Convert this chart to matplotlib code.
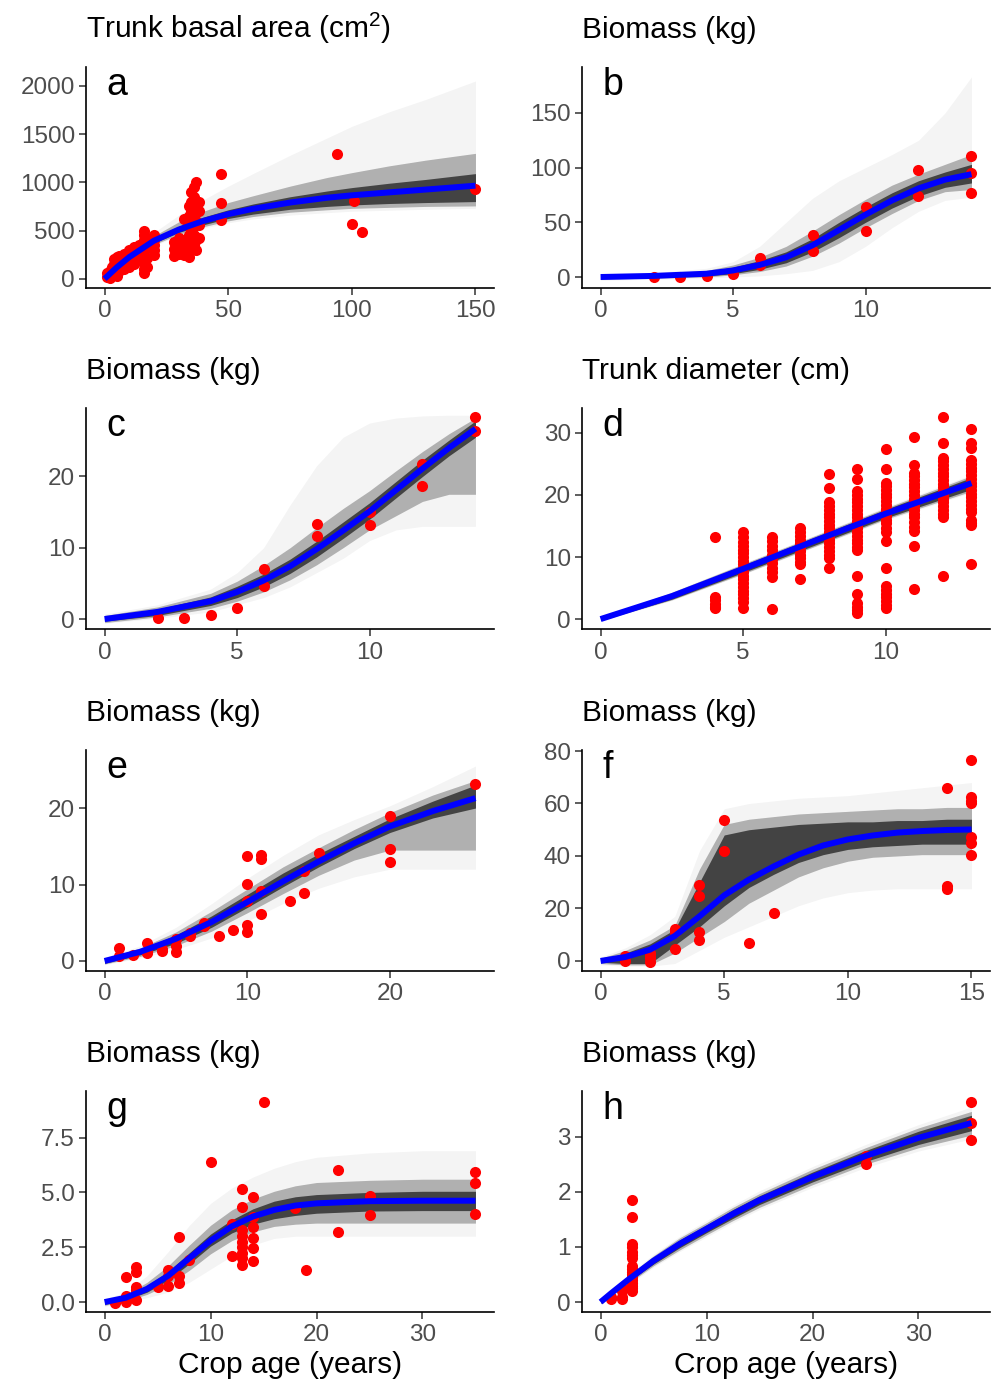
import numpy as np
import matplotlib
matplotlib.use("Agg")
import matplotlib.pyplot as plt

plt.rcParams['font.family'] = ['Liberation Sans', 'DejaVu Sans']
plt.rcParams['mathtext.default'] = 'regular'

# ---------------- panel a : trunk basal area ----------------
a_x = [0, 5, 10, 20, 30, 40, 50, 60, 75, 90, 100, 115, 130, 150]
a_fit = [0, 120, 225, 395, 510, 600, 670, 725, 790, 840, 865, 895, 925, 965]
a_core_lo = [0, 110, 210, 370, 480, 560, 625, 670, 720, 750, 765, 780, 790, 800]
a_core_hi = [0, 130, 240, 420, 545, 640, 715, 775, 850, 910, 945, 990, 1030, 1090]
a_band_lo = [0, 100, 195, 355, 460, 540, 600, 645, 690, 715, 730, 740, 750, 755]
a_band_hi = [0, 140, 255, 445, 590, 700, 790, 860, 960, 1050, 1100, 1170, 1230, 1300]
a_out_lo = [0, 95, 185, 340, 450, 525, 580, 620, 660, 685, 700, 710, 720, 730]
a_out_hi = [0, 150, 275, 480, 660, 820, 960, 1090, 1280, 1460, 1580, 1730, 1860, 2050]
a_age = [1, 1, 2, 2, 3, 3, 4, 4, 4, 5, 5, 5, 6, 6, 6, 7, 7, 8, 8, 8, 9, 9, 10, 10, 10,
         11, 11, 12, 12, 12, 13, 13, 14, 14,
         16, 16, 16, 16, 16, 16, 16, 16, 16, 16, 17, 17, 17, 17,
         20, 20, 20, 20, 20, 28, 28, 28, 30, 30, 30, 32, 32, 32, 32,
         34, 34, 34, 34, 34, 34, 34, 35, 35, 35, 35, 35, 35, 35,
         36, 36, 36, 36, 36, 36, 36, 37, 37, 37, 37, 37, 38, 38, 38, 38,
         47, 47, 47, 94, 100, 101, 104, 150]
a_area = [20, 60, 10, 80, 40, 120, 60, 150, 200, 30, 100, 230, 80, 180, 240, 120, 200, 100, 170, 260,
          150, 220, 120, 200, 300, 180, 260, 150, 230, 330, 200, 290, 250, 350,
          60, 100, 150, 200, 250, 300, 350, 400, 450, 500, 120, 220, 320, 420,
          250, 300, 350, 400, 450, 240, 310, 380, 260, 350, 420, 250, 300, 400, 620,
          230, 280, 350, 450, 550, 650, 750, 300, 400, 500, 600, 700, 800, 900,
          350, 450, 550, 650, 750, 850, 950, 300, 400, 600, 800, 1000, 420, 560, 700, 800,
          610, 790, 1085, 1295, 570, 808, 484, 930]

# ---------------- panel b ----------------
b_x = [0, 2, 4, 5, 6, 7, 8, 9, 10, 11, 12, 13, 14]
b_fit = [0, 1, 3, 6, 11, 18, 29, 43, 57, 70, 81, 89, 94]
b_core_lo = [-1, 0, 1, 3, 7, 13, 23, 36, 50, 63, 74, 82, 86]
b_core_hi = [1, 2, 5, 9, 15, 23, 35, 50, 64, 77, 88, 96, 103]
b_band_lo = [-2, -1, 0, 2, 5, 10, 19, 31, 45, 58, 70, 78, 80]
b_band_hi = [2, 3, 6, 11, 18, 28, 42, 57, 71, 84, 94, 103, 112]
b_out_lo = [-3, -2, -1, 0, 1, 3, 6, 14, 28, 45, 60, 70, 73]
b_out_hi = [3, 4, 8, 14, 28, 50, 72, 88, 100, 112, 125, 150, 183]
b_age = [2, 3, 4, 5, 6, 6, 8, 8, 10, 10, 12, 12, 14, 14, 14]
b_mass = [0, 0, 1, 3, 17, 11, 38, 24, 64, 42, 98, 74, 111, 95, 77]

# ---------------- panel c ----------------
c_x = [0, 2, 4, 5, 6, 7, 8, 9, 10, 11, 12, 13, 14]
c_fit = [0, 1.0, 2.5, 3.8, 5.4, 7.4, 9.8, 12.4, 15.1, 18.1, 21.1, 24.0, 26.7]
c_core_lo = [-0.3, 0.5, 1.9, 3.0, 4.5, 6.4, 8.7, 11.3, 14.0, 17.0, 20.0, 22.9, 25.5]
c_core_hi = [0.3, 1.4, 3.1, 4.6, 6.3, 8.4, 10.9, 13.6, 16.3, 19.3, 22.3, 25.1, 27.8]
c_band_lo = [-0.5, 0.3, 1.5, 2.5, 3.8, 5.5, 7.6, 10.0, 12.5, 14.5, 16.5, 17.5, 17.5]
c_band_hi = [0.5, 1.7, 3.6, 5.3, 7.5, 10.0, 12.8, 15.5, 18.0, 20.8, 23.5, 26.0, 28.2]
c_out_lo = [-0.6, 0.1, 1.0, 2.0, 3.0, 4.5, 6.5, 8.5, 11.0, 12.5, 13.0, 13.0, 13.0]
c_out_hi = [0.7, 2.0, 4.2, 6.5, 10.0, 16.0, 21.5, 25.5, 27.5, 28.2, 28.5, 28.6, 28.6]
c_age = [2, 3, 4, 5, 6, 6, 8, 8, 10, 10, 12, 12, 14, 14]
c_mass = [0.1, 0.2, 0.5, 1.5, 7.0, 4.7, 13.3, 11.6, 15.0, 13.2, 21.8, 18.7, 28.3, 26.4]

# ---------------- panel d : trunk diameter ----------------
d_x = [0, 2.5, 5, 7.5, 10, 13]
d_fit = [0, 3.7, 8.1, 12.6, 17.0, 21.9]
d_core_lo = [-0.2, 3.2, 7.5, 11.9, 16.3, 20.9]
d_core_hi = [0.2, 4.1, 8.7, 13.2, 17.7, 22.8]
d_band_lo = [-0.25, 3.1, 7.3, 11.7, 16.1, 20.6]
d_band_hi = [0.25, 4.3, 8.9, 13.4, 17.9, 23.1]
d_out_lo = [-0.3, 3.0, 7.2, 11.6, 15.9, 20.4]
d_out_hi = [0.3, 4.4, 9.0, 13.5, 18.1, 23.3]
d_cols = [4, 5, 6, 7, 8, 9, 10, 11, 12, 13]
d_vals = [
    [13.2, 3.6, 3.0, 2.5, 2.0, 1.8],
    [14.0, 13.2, 12.4, 11.8, 11.2, 10.6, 10.0, 9.4, 8.8, 8.2, 7.6, 7.0, 6.4, 5.8, 5.2, 4.6, 4.0, 3.4, 2.8, 1.8],
    [13.2, 12.5, 11.8, 11.1, 10.4, 9.7, 9.0, 8.3, 7.6, 6.8, 1.6],
    [14.6, 14.0, 13.4, 12.8, 12.2, 11.6, 11.0, 10.4, 9.8, 9.2, 8.8, 6.5],
    [23.4, 21.1, 18.8, 18.2, 17.6, 17.0, 16.4, 15.8, 15.2, 14.6, 14.0, 13.4, 12.8, 12.2, 11.6, 11.0, 10.4, 9.9, 8.2],
    [24.1, 22.6, 20.6, 20.0, 19.4, 18.8, 18.2, 17.6, 17.0, 16.4, 15.8, 15.2, 14.6, 14.0, 13.4, 12.8, 12.2,
     11.6, 11.2, 7.0, 4.0, 2.6, 2.0, 1.4, 1.0],
    [27.4, 24.2, 22.0, 21.4, 20.8, 20.2, 19.6, 19.0, 18.4, 17.8, 17.2, 16.6, 16.0, 15.4, 14.6, 14.0, 12.5,
     8.2, 5.3, 4.7, 4.1, 3.5, 2.9, 2.3, 1.8],
    [29.3, 24.8, 23.6, 23.0, 22.4, 21.8, 21.2, 20.6, 20.0, 19.4, 18.8, 18.2, 17.6, 17.0, 16.4, 15.6, 14.9,
     14.2, 11.8, 4.8],
    [32.6, 28.4, 26.0, 25.4, 24.8, 24.2, 23.6, 23.0, 22.4, 21.8, 21.2, 20.6, 20.0, 19.4, 18.8, 18.2, 17.6,
     17.0, 16.5, 6.9],
    [30.6, 28.3, 27.6, 25.6, 25.0, 24.4, 23.8, 23.2, 22.6, 22.0, 21.4, 20.8, 20.2, 19.6, 19.0, 18.4, 17.8,
     17.2, 16.0, 15.5, 15.2, 8.8],
]

# ---------------- panel e ----------------
e_x = [0, 2.5, 5, 7.5, 10, 12.5, 15, 17.5, 20, 23, 26]
e_fit = [0, 1.2, 2.9, 5.1, 7.7, 10.4, 13.0, 15.4, 17.6, 19.6, 21.3]
e_core_lo = [-0.3, 0.8, 2.3, 4.4, 7.0, 9.7, 12.3, 14.7, 16.8, 18.7, 20.0]
e_core_hi = [0.2, 1.5, 3.4, 5.9, 8.7, 11.5, 14.0, 16.3, 18.6, 20.9, 23.0]
e_band_lo = [-0.4, 0.6, 2.0, 3.9, 6.3, 8.8, 11.2, 13.2, 14.5, 14.5, 14.5]
e_band_hi = [0.3, 1.7, 3.8, 6.5, 9.4, 12.3, 14.8, 17.2, 19.4, 21.7, 23.6]
e_out_lo = [-0.5, 0.4, 1.5, 3.0, 5.2, 7.5, 9.5, 11.0, 12.0, 12.0, 12.0]
e_out_hi = [0.4, 2.0, 4.4, 7.5, 10.8, 13.8, 16.5, 18.5, 20.3, 22.8, 25.5]
e_age = [1, 1, 2, 3, 3, 3, 4, 4, 5, 5, 5, 6, 6, 7, 7, 8, 9, 10, 10, 10, 10, 10,
         11, 11, 11, 11, 13, 14, 14, 15, 20, 20, 20, 26]
e_mass = [1.7, 0.7, 0.8, 2.4, 1.0, 1.2, 1.6, 1.3, 1.9, 1.2, 2.9, 3.6, 3.3, 4.9, 4.6, 3.3, 4.0,
          13.7, 10.1, 7.8, 4.7, 3.8, 13.9, 13.3, 9.2, 6.1, 7.8, 8.9, 11.8, 14.1, 18.9, 14.7, 13.0, 23.1]

# ---------------- panel f ----------------
f_x = [0, 1, 2, 3, 4, 5, 6, 7, 8, 9, 10, 11, 12, 13, 14, 15]
f_fit = [0, 1.5, 4.3, 9.5, 17, 25, 31, 36, 40.5, 44, 46.3, 47.8, 48.9, 49.5, 49.9, 50.1]
f_core_lo = [-0.5, -1, -1, 6, 13, 21, 28, 33, 37.5, 40.5, 42.5, 43.5, 44, 44.5, 44.5, 44.5]
f_core_hi = [0.5, 3, 6.5, 12, 30, 48, 50, 51, 52, 52.5, 53, 53, 53.5, 53.5, 54, 54]
f_band_lo = [-1, -1.5, -1.5, 3, 9, 15, 22, 27, 32, 35.5, 38, 39.5, 40, 40.5, 40.5, 40.5]
f_band_hi = [1, 4, 8, 13.5, 35, 52, 54, 55, 56, 56.5, 57, 57.5, 58, 58, 58.5, 58.5]
f_out_lo = [-1.5, -2, -2, -1, 4, 9, 13, 17, 21, 24, 26, 27, 27.5, 27.5, 27.5, 27.5]
f_out_hi = [1.5, 5, 10, 17, 42, 58, 60, 61, 62, 62.5, 63, 64, 65, 66, 67, 68]
f_age = [1, 1, 2, 2, 2, 2, 3, 3, 3, 4, 4, 4, 4, 5, 5, 6, 7, 14, 14, 14,
         15, 15, 15, 15, 15, 15, 15]
f_mass = [0, 2, -0.5, 1, 2, 3, 12.3, 11, 4.5, 29.1, 24.9, 11, 8, 53.7, 41.9, 7.0, 18.4, 66, 28.5, 27.3,
          76.5, 62.5, 61, 60, 47.4, 44.9, 40.3]

# ---------------- panel g ----------------
g_x = [0, 2, 4, 6, 8, 10, 12, 14, 16, 18, 20, 25, 30, 35]
g_fit = [0, 0.2, 0.6, 1.2, 2.0, 2.8, 3.45, 3.9, 4.2, 4.4, 4.5, 4.6, 4.62, 4.62]
g_core_lo = [-0.1, 0.1, 0.45, 1.0, 1.75, 2.55, 3.15, 3.55, 3.8, 3.95, 4.05, 4.15, 4.17, 4.17]
g_core_hi = [0.05, 0.3, 0.75, 1.4, 2.25, 3.1, 3.75, 4.25, 4.6, 4.8, 4.9, 5.0, 5.05, 5.05]
g_band_lo = [-0.15, 0.05, 0.35, 0.8, 1.45, 2.2, 2.8, 3.2, 3.45, 3.55, 3.6, 3.6, 3.6, 3.6]
g_band_hi = [0.1, 0.35, 0.9, 1.65, 2.6, 3.5, 4.2, 4.7, 5.05, 5.3, 5.45, 5.55, 5.6, 5.6]
g_out_lo = [-0.2, 0.0, 0.2, 0.45, 0.9, 1.5, 2.1, 2.6, 2.9, 3.0, 3.0, 3.0, 3.0, 3.0]
g_out_hi = [0.15, 0.45, 1.2, 2.3, 3.5, 4.5, 5.2, 5.7, 6.1, 6.4, 6.6, 6.8, 6.9, 6.9]
g_age = [1, 2, 2, 2, 3, 3, 3, 3, 3, 5, 6, 6, 6, 7, 7, 7, 8, 10, 12, 12,
         13, 13, 13, 13, 13, 13, 13, 13, 13, 14, 14, 14, 14, 14, 14,
         15, 18, 19, 22, 22, 25, 25, 35, 35, 35]
g_mass = [-0.05, 1.15, 0.3, 0.0, 1.6, 1.35, 0.7, 0.55, 0.1, 0.7, 1.45, 1.2, 0.75, 2.95, 1.2, 0.85, 1.9,
          6.4, 3.55, 2.1, 5.15, 4.35, 3.3, 3.0, 2.75, 2.5, 2.25, 2.0, 1.7, 4.8, 3.9, 3.4, 2.9, 2.45, 1.85,
          9.12, 4.3, 1.45, 6.03, 3.2, 4.85, 3.95, 5.95, 5.45, 4.0]

# ---------------- panel h ----------------
h_x = [0, 1, 2.5, 5, 7.5, 10, 12.5, 15, 20, 25, 30, 35]
h_fit = [0, 0.16, 0.39, 0.75, 1.06, 1.33, 1.60, 1.85, 2.27, 2.65, 2.98, 3.25]
h_core_lo = [-0.02, 0.13, 0.35, 0.69, 0.99, 1.26, 1.52, 1.77, 2.18, 2.55, 2.86, 3.11]
h_core_hi = [0.02, 0.19, 0.43, 0.81, 1.13, 1.40, 1.68, 1.93, 2.36, 2.75, 3.10, 3.39]
h_band_lo = [-0.03, 0.11, 0.32, 0.66, 0.95, 1.22, 1.48, 1.72, 2.13, 2.50, 2.80, 3.03]
h_band_hi = [0.03, 0.21, 0.46, 0.84, 1.17, 1.44, 1.72, 1.97, 2.41, 2.80, 3.16, 3.46]
h_out_lo = [-0.04, 0.10, 0.29, 0.63, 0.92, 1.18, 1.44, 1.68, 2.08, 2.44, 2.74, 2.96]
h_out_hi = [0.04, 0.22, 0.48, 0.87, 1.20, 1.48, 1.76, 2.02, 2.46, 2.86, 3.22, 3.54]
h_age = [1, 1, 2, 2, 2, 2, 3, 3, 3, 3, 3, 3, 3, 3, 3, 3, 3, 3, 3, 3, 3, 3, 3, 25, 25, 35, 35, 35]
h_mass = [0.1, 0.05, 0.05, 0.1, 0.2, 0.25, 1.86, 1.55, 1.05, 1.0, 0.9, 0.85, 0.8, 0.65, 0.6, 0.55,
          0.5, 0.45, 0.4, 0.35, 0.3, 0.25, 0.2, 2.65, 2.5, 3.63, 3.25, 2.95]

TITLE_SIZE = 21.5
TICK_SIZE = 17.5
LETTER_SIZE = 27


def draw_panel(ax, x, fit, core, band, outer, px, py, letter, title, xlim, ylim, xticks, yticks, yfmt=None):
    # posterior draws shown as nested envelopes: faint, medium, dense core
    ax.fill_between(x, outer[0], outer[1], color='black', alpha=0.045, lw=0, zorder=1)
    ax.fill_between(x, band[0], band[1], color='black', alpha=0.28, lw=0, zorder=2)
    ax.fill_between(x, core[0], core[1], color='#3a3a3a', alpha=0.92, lw=0, zorder=3)
    ax.scatter(px, py, s=64, color='#FF0000', lw=0, zorder=4)
    ax.plot(x, fit, color='#0000FF', lw=4.3, solid_capstyle='butt', zorder=5)

    ax.set_xlim(*xlim)
    ax.set_ylim(*ylim)
    ax.set_xticks(xticks)
    ax.set_yticks(yticks)
    if yfmt:
        ax.set_yticklabels([yfmt % v for v in yticks])
    for side in ['top', 'right']:
        ax.spines[side].set_visible(False)
    for side in ['left', 'bottom']:
        ax.spines[side].set_linewidth(1.2)
        ax.spines[side].set_color('black')
    ax.tick_params(axis='both', length=5, width=1.1, color='#333333', labelcolor='#4D4D4D',
                   labelsize=TICK_SIZE)
    ax.tick_params(axis='x', pad=4)
    ax.tick_params(axis='y', pad=3)
    ax.text(0.05, 0.875, letter, transform=ax.transAxes, fontsize=LETTER_SIZE, color='black',
            ha='left', va='baseline')
    ax.text(0.0, 1.13, title, transform=ax.transAxes, fontsize=TITLE_SIZE, color='black',
            ha='left', va='baseline')


fig = plt.figure(figsize=(9.97, 13.87), dpi=100)
col_left = [0.0863, 0.5838]
row_bottom = [0.7924, 0.5465, 0.3000, 0.0541]
w, h = 0.4092, 0.1593
axes = [[fig.add_axes([col_left[c], row_bottom[r], w, h]) for c in range(2)] for r in range(4)]

draw_panel(axes[0][0], a_x, a_fit, (a_core_lo, a_core_hi), (a_band_lo, a_band_hi), (a_out_lo, a_out_hi),
           a_age, a_area, 'a', 'Trunk basal area (cm$^2$)', (-7.5, 157.5), (-95, 2195),
           [0, 50, 100, 150], [0, 500, 1000, 1500, 2000])
draw_panel(axes[0][1], b_x, b_fit, (b_core_lo, b_core_hi), (b_band_lo, b_band_hi), (b_out_lo, b_out_hi),
           b_age, b_mass, 'b', 'Biomass (kg)', (-0.7, 14.7), (-10, 192),
           [0, 5, 10], [0, 50, 100, 150])
draw_panel(axes[1][0], c_x, c_fit, (c_core_lo, c_core_hi), (c_band_lo, c_band_hi), (c_out_lo, c_out_hi),
           c_age, c_mass, 'c', 'Biomass (kg)', (-0.7, 14.7), (-1.4, 29.6),
           [0, 5, 10], [0, 10, 20])
d_age = [c for c, vals in zip(d_cols, d_vals) for _ in vals]
d_diam = [v for vals in d_vals for v in vals]
draw_panel(axes[1][1], d_x, d_fit, (d_core_lo, d_core_hi), (d_band_lo, d_band_hi), (d_out_lo, d_out_hi),
           d_age, d_diam, 'd', 'Trunk diameter (cm)', (-0.65, 13.65), (-1.6, 34.0),
           [0, 5, 10], [0, 10, 20, 30])
draw_panel(axes[2][0], e_x, e_fit, (e_core_lo, e_core_hi), (e_band_lo, e_band_hi), (e_out_lo, e_out_hi),
           e_age, e_mass, 'e', 'Biomass (kg)', (-1.3, 27.3), (-1.3, 27.6),
           [0, 10, 20], [0, 10, 20])
draw_panel(axes[2][1], f_x, f_fit, (f_core_lo, f_core_hi), (f_band_lo, f_band_hi), (f_out_lo, f_out_hi),
           f_age, f_mass, 'f', 'Biomass (kg)', (-0.75, 15.75), (-3.8, 80.4),
           [0, 5, 10, 15], [0, 20, 40, 60, 80])
draw_panel(axes[3][0], g_x, g_fit, (g_core_lo, g_core_hi), (g_band_lo, g_band_hi), (g_out_lo, g_out_hi),
           g_age, g_mass, 'g', 'Biomass (kg)', (-1.75, 36.75), (-0.45, 9.62),
           [0, 10, 20, 30], [0.0, 2.5, 5.0, 7.5], yfmt='%.1f')
draw_panel(axes[3][1], h_x, h_fit, (h_core_lo, h_core_hi), (h_band_lo, h_band_hi), (h_out_lo, h_out_hi),
           h_age, h_mass, 'h', 'Biomass (kg)', (-1.75, 36.75), (-0.18, 3.83),
           [0, 10, 20, 30], [0, 1, 2, 3])

for ax in axes[3]:
    ax.set_xlabel('Crop age (years)', fontsize=TITLE_SIZE, color='black', labelpad=3)

fig.savefig('out.png', dpi=100)
print("Done.")
